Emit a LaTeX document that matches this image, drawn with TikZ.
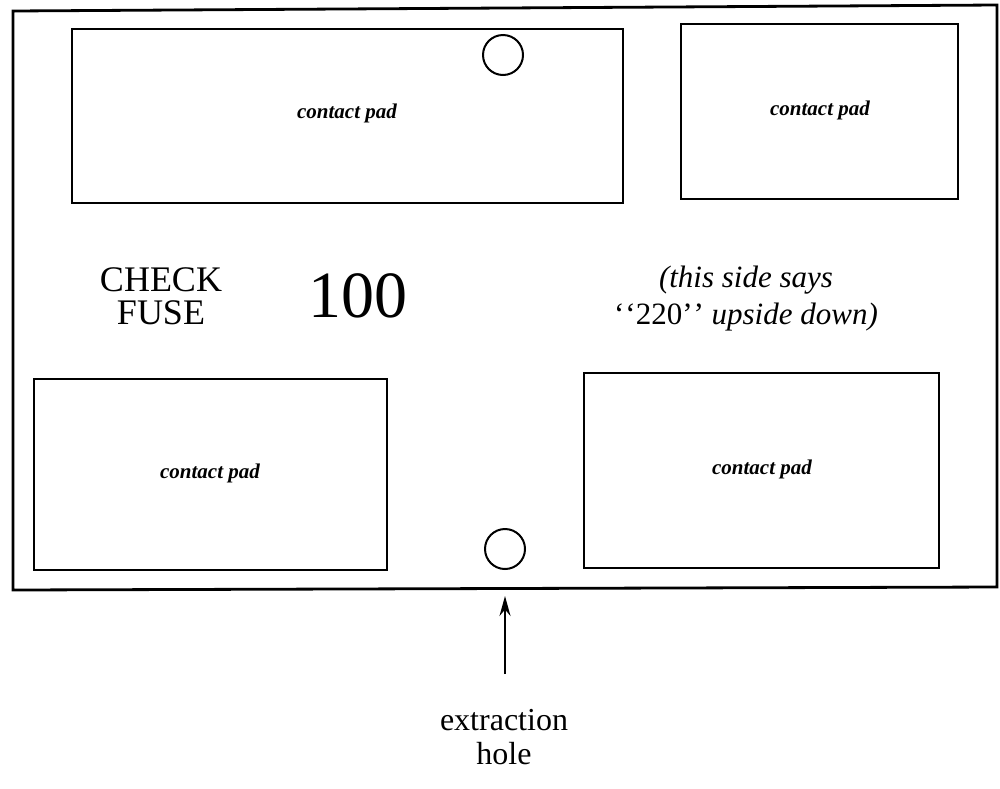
\documentclass[tikz,border=0pt]{standalone}
\usepackage{fontspec}
\setmainfont{Liberation Serif}
\usetikzlibrary{arrows.meta}
\begin{document}
\begin{tikzpicture}[x=0.5pt,y=-0.5pt,
  board/.style={draw, line width=1.4pt, line join=miter},
  pad/.style={draw, line width=1pt},
  padlabel/.style={inner sep=0pt, font=\fontsize{10.5}{12}\selectfont\bfseries\itshape},
  hole/.style={draw, circle, line width=1pt, minimum size=20pt, inner sep=0pt},
  marking/.style={inner sep=0pt, align=center, font=\fontsize{18}{16.5}\selectfont},
  volts/.style={inner sep=0pt, font=\fontsize{33}{36}\selectfont},
  note/.style={inner sep=0pt, align=center, font=\fontsize{15.5}{18.5}\selectfont\itshape},
  caption/.style={inner sep=0pt, align=center, font=\fontsize{16}{17}\selectfont},
  pointer/.style={line width=0.9pt, -{Stealth[length=10pt,width=5.5pt]}}
]
\useasboundingbox (0,0) rectangle (1000,788);

% fuse holder outline
\draw[board] (13,11) -- (997,5) -- (997,587) -- (13,590) -- cycle;

% contact pads
\draw[pad] (72,29) rectangle (623,203);
\draw[pad] (681,24) rectangle (958,199);
\draw[pad] (34,379) rectangle (387,570);
\draw[pad] (584,373) rectangle (939,568);

\node[padlabel] (padA) at (347,113) {contact pad};
\node[padlabel] (padB) at (820,110) {contact pad};
\node[padlabel] (padC) at (210,473) {contact pad};
\node[padlabel] (padD) at (762,469) {contact pad};

% extraction holes
\node[hole] (holeTop) at (503,55) {};
\node[hole] (holeBot) at (505,549) {};

% printed markings
\node[marking] (check) at (161,296.5) {CHECK\\FUSE};
\node[volts, anchor=base] (volt) at (358,317) {100};
\node[note] (side) at (746,298.5) {(this side says\\{\upshape\textquoteleft\kern0.5pt\textquoteleft220\textquoteright\kern0.5pt\textquoteright} upside down)};

% extraction hole pointer
\node[caption] (extr) at (504,737) {extraction\\hole};
\coordinate (tail) at (505,674);
\coordinate (tip) at (505,596);
\draw[pointer] (tail) -- (tip);
\end{tikzpicture}
\end{document}
